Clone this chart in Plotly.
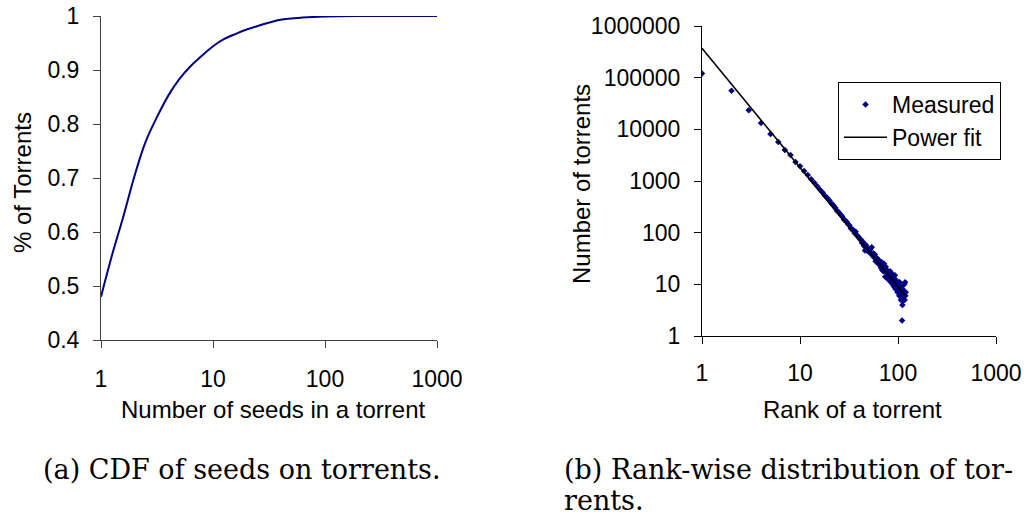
import numpy as np
import plotly.graph_objects as go

# (a) CDF of seeds per torrent
seeds = [1, 1.25, 1.6, 2, 2.5, 3.2, 4, 5, 6.3, 8, 10, 12.5, 16, 20, 25,
         32, 40, 63, 100, 200, 1000]
cdf = [0.48, 0.556, 0.632, 0.705, 0.767, 0.815, 0.853, 0.883, 0.907, 0.927,
       0.944, 0.957, 0.967, 0.975, 0.9815, 0.988, 0.993, 0.997, 0.999, 1.0,
       1.0]

# (b) rank-wise distribution of torrents
ranks = list(range(1, 121))
torrents = [
    121000, 56000, 23400, 13300, 8150, 5700, 4000, 3200, 2340, 1930,
    1560, 1310, 1080, 930, 790, 680, 600, 520, 470, 420,
    365, 335, 300, 262, 245, 222, 205, 180, 172, 160,
    146, 137, 120, 116, 112, 99, 104, 88, 85, 80,
    74, 73, 63, 66, 55, 45, 58, 52, 44, 50,
    42, 47, 39, 52, 36, 40, 33, 38, 28, 33,
    27, 31, 25, 29, 24, 26, 21, 27, 19, 23,
    18, 25, 20, 14, 22, 17, 19, 13, 16, 17,
    12, 15, 18, 13, 11, 14, 16, 10, 12, 13,
    9, 11, 15, 10, 8, 12, 9, 11, 7, 10,
    8, 9, 6, 11, 7, 8, 5, 9, 6, 2,
    4, 8, 5, 7, 6, 10, 5, 11, 6, 7,
]
fit_coef = 370000
fit_exp = -2.307
fit_end_rank = 118

x_ticks_a = [1, 10, 100, 1000]
x_ticks_b = [1, 10, 100, 1000]
y_ticks_b = [1, 10, 100, 1000, 10000, 100000, 1000000]

NAVY = "#000080"
SANS = "Liberation Sans, Arial, sans-serif"
SERIF = "DejaVu Serif, serif"
TICK_FS = 23
TITLE_FS = 24
CAP_FS = 27

fit_x = np.array(ranks[:fit_end_rank], dtype=float)
fit_y = fit_coef * fit_x ** fit_exp

fig = go.Figure()
fig.add_trace(go.Scatter(
    x=seeds, y=cdf, mode="lines", xaxis="x", yaxis="y",
    line=dict(color=NAVY, width=2, shape="spline", smoothing=1.0),
    showlegend=False, hoverinfo="skip"))
fig.add_trace(go.Scatter(
    x=ranks, y=torrents, mode="markers", xaxis="x2", yaxis="y2",
    name="Measured",
    marker=dict(symbol="diamond", size=5, color=NAVY, line=dict(width=0))))
fig.add_trace(go.Scatter(
    x=fit_x, y=fit_y, mode="lines", xaxis="x2", yaxis="y2",
    name="Power fit", line=dict(color="black", width=1.5)))

W, H = 1028, 517

def px(v):
    return v / W

def py(v):
    return (H - v) / H

axis_common = dict(
    showgrid=False, zeroline=False, showline=True, ticks="outside",
    ticklen=7, tickwidth=1, automargin=False,
    tickfont=dict(family=SANS, size=TICK_FS, color="black"),
)

fig.update_layout(
    width=W, height=H,
    margin=dict(l=0, r=0, t=0, b=0, autoexpand=False),
    paper_bgcolor="white", plot_bgcolor="white",
    font=dict(family=SANS, size=TICK_FS, color="black"),
    xaxis=dict(axis_common, type="log", range=[0, 3],
               domain=[px(101), px(437)], anchor="y",
               tickvals=x_ticks_a, ticktext=[str(v) for v in x_ticks_a],
               ticklabelstandoff=11,
               linecolor="#404040", tickcolor="#404040"),
    yaxis=dict(axis_common, range=[0.4, 1.0], dtick=0.1, tick0=0.4,
               domain=[py(340), py(16)], anchor="x",
               ticklabelstandoff=9,
               linecolor="#404040", tickcolor="#404040"),
    xaxis2=dict(axis_common, type="log", range=[0, 3],
                domain=[px(702), px(996)], anchor="y2",
                tickvals=x_ticks_b, ticktext=[str(v) for v in x_ticks_b],
                ticklabelstandoff=9,
                linecolor="black", tickcolor="black"),
    yaxis2=dict(axis_common, type="log", range=[0, 6],
                domain=[py(336), py(26)], anchor="x2",
                tickvals=y_ticks_b, ticktext=[str(v) for v in y_ticks_b],
                ticklabelstandoff=9,
                linecolor="black", tickcolor="black"),
    legend=dict(x=px(838), y=py(82), xanchor="left", yanchor="top",
                bordercolor="black", borderwidth=1, bgcolor="white",
                font=dict(family=SANS, size=23, color="black"),
                itemwidth=43, tracegroupgap=0),
    showlegend=True,
)

annotations = [
    dict(text="% of Torrents", x=px(22), y=py(183), textangle=-90),
    dict(text="Number of seeds in a torrent", x=px(273), y=py(409)),
    dict(text="Number of torrents", x=px(582), y=py(184), textangle=-90),
    dict(text="Rank of a torrent", x=px(852), y=py(409)),
]
for a in annotations:
    fig.add_annotation(xref="paper", yref="paper", showarrow=False,
                       xanchor="center", yanchor="middle",
                       font=dict(family=SANS, size=TITLE_FS, color="black"), **a)

# sub-figure captions
captions = [
    dict(text="(a) CDF of seeds on torrents.", x=px(42), y=py(469),
         yanchor="middle"),
    dict(text="(b) Rank-wise distribution of tor-", x=px(563), y=py(469),
         yanchor="middle"),
    dict(text="rents.", x=px(563), y=0, yanchor="bottom"),
]
for c in captions:
    fig.add_annotation(xref="paper", yref="paper", showarrow=False,
                       xanchor="left", borderpad=0,
                       font=dict(family=SERIF, size=CAP_FS, color="black"), **c)

fig.write_html("out.html")
